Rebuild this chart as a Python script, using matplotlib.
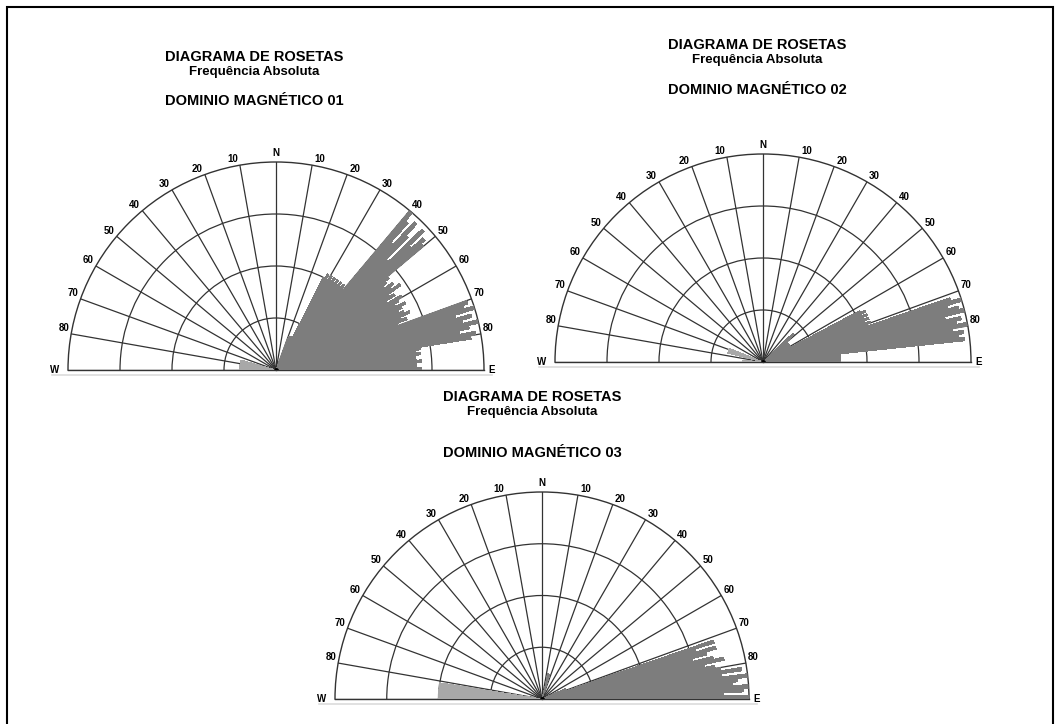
import matplotlib
matplotlib.use('Agg')
import matplotlib.pyplot as plt
from matplotlib.patches import Rectangle
from matplotlib.lines import Line2D
import numpy as np

plt.rcParams['font.family'] = ['Liberation Sans', 'DejaVu Sans']

W_PX, H_PX = 1062, 724
fig = plt.figure(figsize=(W_PX / 100, H_PX / 100), dpi=100)

# azimuth bins, 1 degree wide, measured from N towards E (or towards W)
az = np.arange(90) + 0.5
R_MAX = 40
rings = [10, 20, 30]
spokes = list(range(-90, 91, 10))

# Dominio magnetico 01 -- frequencia absoluta por grau
d1_east = [0, 0, 0, 0, 0, 0, 0, 0, 0, 0,
           0, 0, 0, 0, 0, 0, 0, 0, 0, 0,
           6, 7, 7, 7, 7, 7, 7, 20, 21, 20,
           21, 20, 21, 20, 21, 20, 21, 20, 21, 20,
           40, 38, 33, 39, 36, 30, 39, 35, 38, 37,
           28, 27, 26, 28, 27, 29, 26, 27, 25, 28,
           27, 26, 28, 27, 26, 27, 28, 26, 27, 25,
           39, 38, 40, 36, 39, 37, 40, 38, 36, 39,
           38, 28, 27, 28, 27, 27, 28, 27, 27, 28]
d1_west = [0] * 74 + [7] * 16

# Dominio magnetico 02
d2_east = [0] * 45 + [7, 8, 7, 8, 7,
           6, 6, 5, 6, 6, 5, 6, 6, 5, 6, 6, 6,
           21, 22, 21, 22, 21, 22, 21, 22, 21,
           38, 40, 37, 39, 40, 36, 39, 38, 40, 37, 39, 38, 39,
           15, 15, 15, 15, 15, 15]
d2_west = [0] * 68 + [7] * 8 + [0] * 9 + [4] * 5

# Dominio magnetico 03
d3_east = [0] * 13 + [5, 5, 5, 5, 5] + [0] * 48 + [5, 5, 5, 5, 5,
           35, 31, 35, 33, 30, 34, 36, 32, 34, 35,
           39, 35, 40, 38, 37, 40, 39, 35, 40]
d3_west = [0] * 81 + [20] * 9

panels = [
    # (east, west, centre x, baseline y, radius, title x, title y, gap to name, name) in px
    (d1_east, d1_west, 276, 370, 208, 254, 57, 44, 'DOMINIO MAGNÉTICO 01'),
    (d2_east, d2_west, 763, 362, 208, 757, 45, 45, 'DOMINIO MAGNÉTICO 02'),
    (d3_east, d3_west, 542, 699, 207, 532, 397, 56, 'DOMINIO MAGNÉTICO 03'),
]

grid_col = '#333333'
east_col = '#7d7d7d'
west_col = '#a8a8a8'
lab_kw = dict(fontsize=7, fontweight='bold', annotation_clip=False)

for east, west, cx, cy, rad, tx, ty, gap, name in panels:
    # a half-disc polar axes sits centred in a square box of side 2*rad
    rect = [(cx - rad) / W_PX, (H_PX - cy - rad / 2) / H_PX, 2 * rad / W_PX, 2 * rad / H_PX]
    ax = fig.add_axes(rect, projection='polar')
    ax.set_theta_zero_location('N')
    ax.set_theta_direction(-1)
    ax.set_thetamin(-90)
    ax.set_thetamax(90)
    ax.set_ylim(0, R_MAX)
    ax.set_yticks(rings)
    ax.set_yticklabels([])
    ax.set_xticks(np.deg2rad(spokes))
    ax.set_xticklabels([])
    ax.grid(True, color=grid_col, lw=0.9)
    ax.set_axisbelow(True)
    for sp in ax.spines.values():
        sp.set_color(grid_col)
        sp.set_linewidth(1.0)

    # one petal per degree, drawn without antialiasing so neighbours join cleanly
    ax.bar(np.deg2rad(az), east, width=np.deg2rad(1.0), bottom=0,
           color=east_col, linewidth=0, antialiased=False, zorder=3)
    ax.bar(-np.deg2rad(az), west, width=np.deg2rad(1.0), bottom=0,
           color=west_col, linewidth=0, antialiased=False, zorder=3)
    ax.plot([0], [0], 'o', color='black', ms=2.5, zorder=5)

    # direction labels around the outer arc
    for d in range(10, 90, 10):
        ax.annotate(str(d), xy=(np.deg2rad(d), R_MAX), xytext=(1.5, 0.5),
                    textcoords='offset points', ha='left', va='bottom', **lab_kw)
        ax.annotate(str(d), xy=(-np.deg2rad(d), R_MAX), xytext=(-1.5, 0.5),
                    textcoords='offset points', ha='right', va='bottom', **lab_kw)
    ax.annotate('N', xy=(0, R_MAX), xytext=(0, 3), textcoords='offset points',
                ha='center', va='bottom', **lab_kw)
    ax.annotate('W', xy=(-np.pi / 2, R_MAX), xytext=(-6, 0), textcoords='offset points',
                ha='right', va='center', **lab_kw)
    ax.annotate('E', xy=(np.pi / 2, R_MAX), xytext=(3, 0), textcoords='offset points',
                ha='left', va='center', **lab_kw)

    # faint rule under the baseline
    fig.add_artist(Line2D([(cx - rad - 16) / W_PX, (cx + rad + 8) / W_PX],
                          [1 - (cy + 5) / H_PX] * 2, transform=fig.transFigure,
                          color='#dcdcdc', lw=1.2))

    fx = tx / W_PX
    fig.text(fx, 1 - ty / H_PX, 'DIAGRAMA DE ROSETAS', ha='center', va='center',
             fontsize=10.5, fontweight='bold')
    fig.text(fx, 1 - (ty + 15.5) / H_PX, 'Frequência Absoluta', ha='center', va='center',
             fontsize=9.5, fontweight='bold')
    fig.text(fx, 1 - (ty + gap) / H_PX, name, ha='center', va='center',
             fontsize=10.5, fontweight='bold')

# page frame
fig.add_artist(Rectangle((7 / W_PX, -0.02), (1053 - 7) / W_PX, 0.02 + (H_PX - 7) / H_PX,
                         transform=fig.transFigure, fill=False, ec='black', lw=1.5))

fig.savefig('out.png', dpi=100)
